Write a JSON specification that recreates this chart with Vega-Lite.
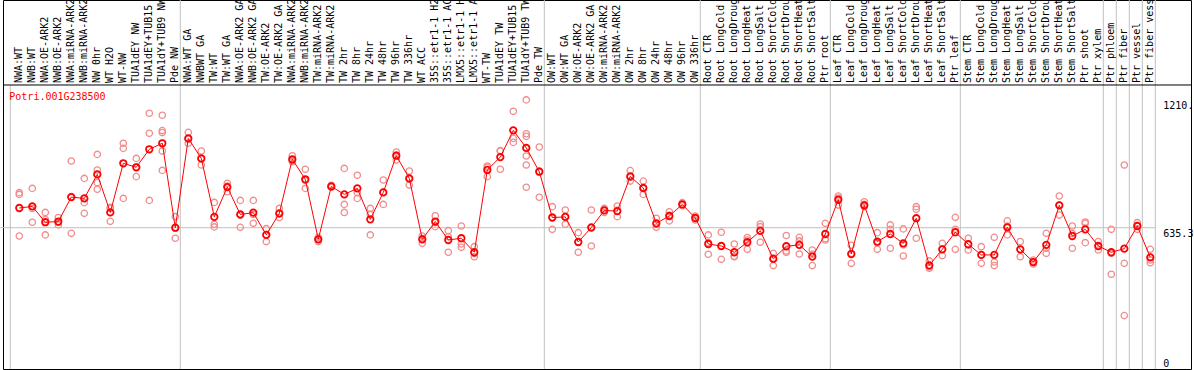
{
  "$schema": "https://vega.github.io/schema/vega-lite/v6.json",
  "width": 1188,
  "height": 369,
  "autosize": {"type": "none"},
  "padding": {"left": 3, "top": 0, "right": 3, "bottom": 1},
  "background": "white",
  "config": {"view": {"stroke": "black", "strokeWidth": 1}},
  "datasets": {
    "samples": [
      {"i":0,"sample":"NWA:WT","group":"NW","mean":724},
      {"i":1,"sample":"NWB:WT","group":"NW","mean":731},
      {"i":2,"sample":"NWA:OE-ARK2","group":"NW","mean":660},
      {"i":3,"sample":"NWB:OE-ARK2","group":"NW","mean":663},
      {"i":4,"sample":"NWA:miRNA-ARK2","group":"NW","mean":773},
      {"i":5,"sample":"NWB:miRNA-ARK2","group":"NW","mean":767},
      {"i":6,"sample":"NW 0hr","group":"NW","mean":875},
      {"i":7,"sample":"WT H2O","group":"NW","mean":704},
      {"i":8,"sample":"WT-NW","group":"NW","mean":925},
      {"i":9,"sample":"TUA1dEY NW","group":"NW","mean":907},
      {"i":10,"sample":"TUA1dEY+TUB15 NW","group":"NW","mean":988},
      {"i":11,"sample":"TUA1dY+TUB9 NW","group":"NW","mean":1015},
      {"i":12,"sample":"Pde NW","group":"NW","mean":635.3},
      {"i":13,"sample":"NWA:WT GA","group":"TW","mean":1037},
      {"i":14,"sample":"NWBWT GA","group":"TW","mean":947},
      {"i":15,"sample":"TW:WT","group":"TW","mean":684},
      {"i":16,"sample":"TW:WT GA","group":"TW","mean":818},
      {"i":17,"sample":"NWA:OE-ARK2 GA","group":"TW","mean":695},
      {"i":18,"sample":"NWB:OE-ARK2 GA","group":"TW","mean":703},
      {"i":19,"sample":"TW:OE-ARK2","group":"TW","mean":603},
      {"i":20,"sample":"TW:OE-ARK2 GA","group":"TW","mean":700},
      {"i":21,"sample":"NWA:miRNA-ARK2 GA","group":"TW","mean":943},
      {"i":22,"sample":"NWB:miRNA-ARK2 GA","group":"TW","mean":853},
      {"i":23,"sample":"TW:miRNA-ARK2","group":"TW","mean":583},
      {"i":24,"sample":"TW:miRNA-ARK2 GA","group":"TW","mean":821},
      {"i":25,"sample":"TW 2hr","group":"TW","mean":785},
      {"i":26,"sample":"TW 8hr","group":"TW","mean":812},
      {"i":27,"sample":"TW 24hr","group":"TW","mean":673},
      {"i":28,"sample":"TW 48hr","group":"TW","mean":794},
      {"i":29,"sample":"TW 96hr","group":"TW","mean":959},
      {"i":30,"sample":"TW 336hr","group":"TW","mean":857},
      {"i":31,"sample":"WT ACC","group":"TW","mean":583},
      {"i":32,"sample":"35S::etr1-1 H2O","group":"TW","mean":663},
      {"i":33,"sample":"35S::etr1-1 ACC","group":"TW","mean":580},
      {"i":34,"sample":"LMX5::etr1-1 H2O","group":"TW","mean":588},
      {"i":35,"sample":"LMX5::etr1-1 ACC","group":"TW","mean":525},
      {"i":36,"sample":"WT-TW","group":"TW","mean":895},
      {"i":37,"sample":"TUA1dEY TW","group":"TW","mean":953},
      {"i":38,"sample":"TUA1dEY+TUB15 TW","group":"TW","mean":1073},
      {"i":39,"sample":"TUA1dY+TUB9 TW","group":"TW","mean":994},
      {"i":40,"sample":"Pde TW","group":"TW","mean":887},
      {"i":41,"sample":"OW:WT","group":"OW","mean":681},
      {"i":42,"sample":"OW:WT GA","group":"OW","mean":684},
      {"i":43,"sample":"OW:OE-ARK2","group":"OW","mean":571},
      {"i":44,"sample":"OW:OE-ARK2 GA","group":"OW","mean":636},
      {"i":45,"sample":"OW:miRNA-ARK2","group":"OW","mean":713},
      {"i":46,"sample":"OW:miRNA-ARK2 GA","group":"OW","mean":710},
      {"i":47,"sample":"OW 2hr","group":"OW","mean":866},
      {"i":48,"sample":"OW 8hr","group":"OW","mean":814},
      {"i":49,"sample":"OW 24hr","group":"OW","mean":655},
      {"i":50,"sample":"OW 48hr","group":"OW","mean":688},
      {"i":51,"sample":"OW 96hr","group":"OW","mean":740},
      {"i":52,"sample":"OW 336hr","group":"OW","mean":679},
      {"i":53,"sample":"Root CTR","group":"Root","mean":562},
      {"i":54,"sample":"Root LongCold","group":"Root","mean":553},
      {"i":55,"sample":"Root LongDrought","group":"Root","mean":525},
      {"i":56,"sample":"Root LongHeat","group":"Root","mean":570},
      {"i":57,"sample":"Root LongSalt","group":"Root","mean":621},
      {"i":58,"sample":"Root ShortCold","group":"Root","mean":495},
      {"i":59,"sample":"Root ShortDrought","group":"Root","mean":552},
      {"i":60,"sample":"Root ShortHeat","group":"Root","mean":558},
      {"i":61,"sample":"Root ShortSalt","group":"Root","mean":505},
      {"i":62,"sample":"Ptr root","group":"Root","mean":607},
      {"i":63,"sample":"Leaf CTR","group":"Leaf","mean":761},
      {"i":64,"sample":"Leaf LongCold","group":"Leaf","mean":517},
      {"i":65,"sample":"Leaf LongDrought","group":"Leaf","mean":736},
      {"i":66,"sample":"Leaf LongHeat","group":"Leaf","mean":573},
      {"i":67,"sample":"Leaf LongSalt","group":"Leaf","mean":607},
      {"i":68,"sample":"Leaf ShortCold","group":"Leaf","mean":565},
      {"i":69,"sample":"Leaf ShortDrought","group":"Leaf","mean":678},
      {"i":70,"sample":"Leaf ShortHeat","group":"Leaf","mean":466},
      {"i":71,"sample":"Leaf ShortSalt","group":"Leaf","mean":538},
      {"i":72,"sample":"Ptr leaf","group":"Leaf","mean":615},
      {"i":73,"sample":"Stem CTR","group":"Stem","mean":561},
      {"i":74,"sample":"Stem LongCold","group":"Stem","mean":513},
      {"i":75,"sample":"Stem LongDrought","group":"Stem","mean":513},
      {"i":76,"sample":"Stem LongHeat","group":"Stem","mean":637},
      {"i":77,"sample":"Stem LongSalt","group":"Stem","mean":538},
      {"i":78,"sample":"Stem ShortCold","group":"Stem","mean":481},
      {"i":79,"sample":"Stem ShortDrought","group":"Stem","mean":558},
      {"i":80,"sample":"Stem ShortHeat","group":"Stem","mean":736},
      {"i":81,"sample":"Stem ShortSalt","group":"Stem","mean":598},
      {"i":82,"sample":"Ptr shoot","group":"Stem","mean":628},
      {"i":83,"sample":"Ptr xylem","group":"Stem","mean":553},
      {"i":84,"sample":"Ptr phloem","group":"Phloem","mean":525},
      {"i":85,"sample":"Ptr fiber","group":"Fiber","mean":541},
      {"i":86,"sample":"Ptr vessel","group":"Vessel","mean":643},
      {"i":87,"sample":"Ptr fiber vessel","group":"FiberVessel","mean":502}
    ],
    "reps": [
      {"i":0,"v":793},{"i":0,"v":785},{"i":0,"v":598},
      {"i":1,"v":812},{"i":1,"v":722},{"i":1,"v":660},
      {"i":2,"v":704},{"i":2,"v":672},{"i":2,"v":603},
      {"i":3,"v":681},{"i":3,"v":660},{"i":3,"v":648},
      {"i":4,"v":935},{"i":4,"v":775},{"i":4,"v":610},
      {"i":5,"v":857},{"i":5,"v":748},{"i":5,"v":700},
      {"i":6,"v":965},{"i":6,"v":895},{"i":6,"v":838},{"i":6,"v":808},
      {"i":7,"v":727},{"i":7,"v":722},{"i":7,"v":664},
      {"i":8,"v":1015},{"i":8,"v":992},{"i":8,"v":767},
      {"i":9,"v":947},{"i":9,"v":908},{"i":9,"v":865},
      {"i":10,"v":1150},{"i":10,"v":1060},{"i":10,"v":758},
      {"i":11,"v":1141},{"i":11,"v":1072},{"i":11,"v":1063},{"i":11,"v":1015},{"i":11,"v":980},{"i":11,"v":893},
      {"i":12,"v":685},{"i":12,"v":634},{"i":12,"v":588},
      {"i":13,"v":1064},{"i":13,"v":1033},{"i":13,"v":1015},
      {"i":14,"v":980},{"i":14,"v":944},{"i":14,"v":917},
      {"i":15,"v":749},{"i":15,"v":651},{"i":15,"v":639},
      {"i":16,"v":835},{"i":16,"v":823},{"i":16,"v":797},
      {"i":17,"v":758},{"i":17,"v":691},{"i":17,"v":637},
      {"i":18,"v":758},{"i":18,"v":695},{"i":18,"v":655},
      {"i":19,"v":631},{"i":19,"v":604},{"i":19,"v":573},
      {"i":20,"v":722},{"i":20,"v":697},{"i":20,"v":681},
      {"i":21,"v":959},{"i":21,"v":937},{"i":21,"v":932},
      {"i":22,"v":898},{"i":22,"v":848},{"i":22,"v":812},
      {"i":23,"v":592},{"i":23,"v":583},{"i":23,"v":573},
      {"i":24,"v":826},{"i":24,"v":821},{"i":24,"v":817},
      {"i":25,"v":902},{"i":25,"v":740},{"i":25,"v":704},
      {"i":26,"v":871},{"i":26,"v":793},{"i":26,"v":767},
      {"i":27,"v":722},{"i":27,"v":695},{"i":27,"v":603},
      {"i":28,"v":850},{"i":28,"v":794},{"i":28,"v":740},
      {"i":29,"v":976},{"i":29,"v":962},{"i":29,"v":940},
      {"i":30,"v":890},{"i":30,"v":854},{"i":30,"v":827},
      {"i":31,"v":598},{"i":31,"v":586},{"i":31,"v":565},
      {"i":32,"v":689},{"i":32,"v":658},{"i":32,"v":640},
      {"i":33,"v":622},{"i":33,"v":595},{"i":33,"v":525},
      {"i":34,"v":643},{"i":34,"v":562},{"i":34,"v":547},
      {"i":35,"v":550},{"i":35,"v":519},{"i":35,"v":505},
      {"i":36,"v":913},{"i":36,"v":907},{"i":36,"v":865},
      {"i":37,"v":982},{"i":37,"v":980},{"i":37,"v":898},
      {"i":38,"v":1159},{"i":38,"v":1037},{"i":38,"v":1019},
      {"i":39,"v":1210},{"i":39,"v":1058},{"i":39,"v":1046},{"i":39,"v":992},{"i":39,"v":958},{"i":39,"v":917},{"i":39,"v":817},
      {"i":40,"v":998},{"i":40,"v":890},{"i":40,"v":772},
      {"i":41,"v":730},{"i":41,"v":684},{"i":41,"v":628},
      {"i":42,"v":715},{"i":42,"v":685},{"i":42,"v":651},
      {"i":43,"v":613},{"i":43,"v":571},{"i":43,"v":525},
      {"i":44,"v":715},{"i":44,"v":639},{"i":44,"v":553},
      {"i":45,"v":722},{"i":45,"v":713},{"i":45,"v":704},
      {"i":46,"v":733},{"i":46,"v":713},{"i":46,"v":685},
      {"i":47,"v":892},{"i":47,"v":862},{"i":47,"v":845},
      {"i":48,"v":845},{"i":48,"v":811},{"i":48,"v":785},
      {"i":49,"v":678},{"i":49,"v":651},{"i":49,"v":637},
      {"i":50,"v":707},{"i":50,"v":691},{"i":50,"v":666},
      {"i":51,"v":748},{"i":51,"v":739},{"i":51,"v":734},
      {"i":52,"v":688},{"i":52,"v":679},{"i":52,"v":670},
      {"i":53,"v":603},{"i":53,"v":568},{"i":53,"v":516},
      {"i":54,"v":615},{"i":54,"v":552},{"i":54,"v":493},
      {"i":55,"v":562},{"i":55,"v":507},{"i":55,"v":505},
      {"i":56,"v":591},{"i":56,"v":580},{"i":56,"v":538},
      {"i":57,"v":652},{"i":57,"v":640},{"i":57,"v":570},
      {"i":58,"v":520},{"i":58,"v":499},{"i":58,"v":465},
      {"i":59,"v":600},{"i":59,"v":531},{"i":59,"v":525},
      {"i":60,"v":592},{"i":60,"v":576},{"i":60,"v":517},
      {"i":61,"v":535},{"i":61,"v":516},{"i":61,"v":465},
      {"i":62,"v":655},{"i":62,"v":586},{"i":62,"v":580},
      {"i":63,"v":778},{"i":63,"v":769},{"i":63,"v":737},
      {"i":64,"v":556},{"i":64,"v":520},{"i":64,"v":475},
      {"i":65,"v":752},{"i":65,"v":740},{"i":65,"v":730},
      {"i":66,"v":613},{"i":66,"v":567},{"i":66,"v":538},
      {"i":67,"v":648},{"i":67,"v":628},{"i":67,"v":543},
      {"i":68,"v":630},{"i":68,"v":558},{"i":68,"v":508},
      {"i":69,"v":730},{"i":69,"v":718},{"i":69,"v":588},
      {"i":70,"v":486},{"i":70,"v":460},{"i":70,"v":453},
      {"i":71,"v":565},{"i":71,"v":540},{"i":71,"v":510},
      {"i":72,"v":682},{"i":72,"v":628},{"i":72,"v":538},
      {"i":73,"v":588},{"i":73,"v":559},{"i":73,"v":535},
      {"i":74,"v":550},{"i":74,"v":513},{"i":74,"v":475},
      {"i":75,"v":592},{"i":75,"v":481},{"i":75,"v":465},
      {"i":76,"v":666},{"i":76,"v":643},{"i":76,"v":603},
      {"i":77,"v":573},{"i":77,"v":537},{"i":77,"v":505},
      {"i":78,"v":490},{"i":78,"v":481},{"i":78,"v":472},
      {"i":79,"v":610},{"i":79,"v":543},{"i":79,"v":520},
      {"i":80,"v":778},{"i":80,"v":737},{"i":80,"v":692},
      {"i":81,"v":643},{"i":81,"v":609},{"i":81,"v":543},
      {"i":82,"v":661},{"i":82,"v":655},{"i":82,"v":568},
      {"i":83,"v":573},{"i":83,"v":552},{"i":83,"v":535},
      {"i":84,"v":628},{"i":84,"v":520},{"i":84,"v":426},
      {"i":85,"v":917},{"i":85,"v":475},{"i":85,"v":240},
      {"i":86,"v":658},{"i":86,"v":643},{"i":86,"v":628},
      {"i":87,"v":538},{"i":87,"v":490},{"i":87,"v":478}
    ],
    "yticks": [
      {"tick": 0, "label": "0"},
      {"tick": 635.3, "label": "635.3"},
      {"tick": 1210, "label": "1210."}
    ]
  },
  "layer": [
    {
      "data": {"name": "samples"},
      "transform": [
        {"joinaggregate": [{"op": "max", "field": "i", "as": "maxi"}], "groupby": ["group"]},
        {"filter": "datum.i === datum.maxi"}
      ],
      "mark": {"type": "rule", "color": "#c0c0c0", "strokeWidth": 1, "xOffset": 5},
      "encoding": {
        "x": {"field": "i", "type": "quantitative", "scale": {"domain": [-1.2538, 90.131], "nice": false, "zero": false}, "axis": null}
      }
    },
    {
      "data": {"values": [{}]},
      "mark": {"type": "rule", "color": "#c0c0c0", "strokeWidth": 1, "xOffset": -9},
      "encoding": {
        "x": {"datum": 0, "type": "quantitative", "scale": {"domain": [-1.2538, 90.131], "nice": false, "zero": false}, "axis": null},
        "y": {"datum": 1277, "type": "quantitative", "scale": {"domain": [0, 1659.2], "nice": false, "zero": true}, "axis": null},
        "y2": {"datum": 0}
      }
    },
    {
      "data": {"values": [{}]},
      "mark": {"type": "rule", "color": "#c0c0c0", "strokeWidth": 1, "xOffset": -19, "x2Offset": 5},
      "encoding": {
        "x": {"datum": 0, "type": "quantitative", "scale": {"domain": [-1.2538, 90.131], "nice": false, "zero": false}, "axis": null},
        "x2": {"datum": 87},
        "y": {"datum": 635.3, "type": "quantitative", "scale": {"domain": [0, 1659.2], "nice": false, "zero": true}, "axis": null}
      }
    },
    {
      "data": {"values": [{}]},
      "mark": {"type": "rule", "color": "black", "strokeWidth": 1},
      "encoding": {
        "y": {"datum": 1277, "type": "quantitative", "scale": {"domain": [0, 1659.2], "nice": false, "zero": true}, "axis": null}
      }
    },
    {
      "data": {"name": "reps"},
      "mark": {"type": "point", "shape": "circle", "filled": false, "color": "#f08c8c", "strokeWidth": 1.3, "size": 40, "opacity": 1},
      "encoding": {
        "x": {"field": "i", "type": "quantitative", "scale": {"domain": [-1.2538, 90.131], "nice": false, "zero": false}, "axis": null},
        "y": {"field": "v", "type": "quantitative", "scale": {"domain": [0, 1659.2], "nice": false, "zero": true}, "axis": null}
      }
    },
    {
      "data": {"name": "samples"},
      "mark": {"type": "line", "color": "#ff0000", "strokeWidth": 1},
      "encoding": {
        "x": {"field": "i", "type": "quantitative", "scale": {"domain": [-1.2538, 90.131], "nice": false, "zero": false}, "axis": null},
        "y": {"field": "mean", "type": "quantitative", "scale": {"domain": [0, 1659.2], "nice": false, "zero": true}, "axis": null}
      }
    },
    {
      "data": {"name": "samples"},
      "mark": {"type": "point", "shape": "circle", "filled": false, "color": "#ff0000", "strokeWidth": 1.8, "size": 42, "opacity": 1},
      "encoding": {
        "x": {"field": "i", "type": "quantitative", "scale": {"domain": [-1.2538, 90.131], "nice": false, "zero": false}, "axis": null},
        "y": {"field": "mean", "type": "quantitative", "scale": {"domain": [0, 1659.2], "nice": false, "zero": true}, "axis": null}
      }
    },
    {
      "data": {"name": "samples"},
      "mark": {"type": "text", "angle": 270, "align": "left", "baseline": "middle", "dx": 2, "font": "DejaVu Sans Mono", "fontSize": 10, "color": "black"},
      "encoding": {
        "x": {"field": "i", "type": "quantitative", "scale": {"domain": [-1.2538, 90.131], "nice": false, "zero": false}, "axis": null},
        "y": {"datum": 1277, "type": "quantitative", "scale": {"domain": [0, 1659.2], "nice": false, "zero": true}, "axis": null},
        "text": {"field": "sample"}
      }
    },
    {
      "data": {"values": [{"gene": "Potri.001G238500"}]},
      "mark": {"type": "text", "align": "left", "baseline": "middle", "dx": -10, "font": "DejaVu Sans Mono", "fontSize": 10, "color": "#ff0000"},
      "encoding": {
        "x": {"datum": 0, "type": "quantitative", "scale": {"domain": [-1.2538, 90.131], "nice": false, "zero": false}, "axis": null},
        "y": {"datum": 1224, "type": "quantitative", "scale": {"domain": [0, 1659.2], "nice": false, "zero": true}, "axis": null},
        "text": {"field": "gene"}
      }
    },
    {
      "data": {"name": "yticks"},
      "transform": [{"filter": "datum.tick > 0"}],
      "mark": {"type": "text", "align": "left", "baseline": "top", "dx": 13, "dy": 1, "font": "DejaVu Sans Mono", "fontSize": 10, "color": "black"},
      "encoding": {
        "x": {"datum": 87, "type": "quantitative", "scale": {"domain": [-1.2538, 90.131], "nice": false, "zero": false}, "axis": null},
        "y": {"field": "tick", "type": "quantitative", "scale": {"domain": [0, 1659.2], "nice": false, "zero": true}, "axis": null},
        "text": {"field": "label"}
      }
    },
    {
      "data": {"name": "yticks"},
      "transform": [{"filter": "datum.tick === 0"}],
      "mark": {"type": "text", "align": "left", "baseline": "bottom", "dx": 13, "font": "DejaVu Sans Mono", "fontSize": 10, "color": "black"},
      "encoding": {
        "x": {"datum": 87, "type": "quantitative", "scale": {"domain": [-1.2538, 90.131], "nice": false, "zero": false}, "axis": null},
        "y": {"field": "tick", "type": "quantitative", "scale": {"domain": [0, 1659.2], "nice": false, "zero": true}, "axis": null},
        "text": {"field": "label"}
      }
    }
  ]
}
